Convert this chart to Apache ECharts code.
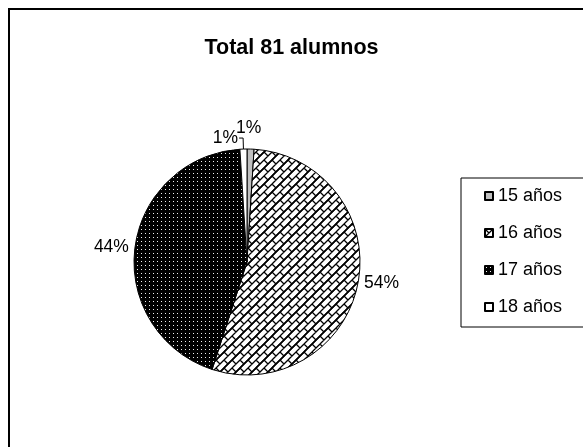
<!DOCTYPE html>
<html>
<head>
<meta charset="utf-8">
<script src="https://cdn.jsdelivr.net/npm/echarts@6/dist/echarts.min.js"></script>
<style>
  html, body { margin: 0; padding: 0; background: #fff; }
  #chart { width: 583px; height: 447px; }
</style>
</head>
<body>
<div id="chart"></div>
<script>
// datos del gráfico
const titleText = 'Total 81 alumnos';
const categories = ['15 años', '16 años', '17 años', '18 años'];
const percentages = [1, 54, 44, 1];

// tramas tipo Excel hechas con canvas
function makeTile(size, draw) {
  const c = document.createElement('canvas');
  c.width = size;
  c.height = size;
  const ctx = c.getContext('2d');
  draw(ctx, size);
  return c;
}

// ladrillo diagonal (16 años)
const brick = makeTile(16, function (ctx, T) {
  ctx.fillStyle = '#fff';
  ctx.fillRect(0, 0, T, T);
  ctx.strokeStyle = '#000';
  ctx.lineWidth = 1.3;
  const h = T / 2, q = T / 4;
  const segs = [
    // líneas "/"
    [0, h, h, 0], [0, T, T, 0], [h, T, T, h], [-h, h, h, -h], [h, T + h, T + h, h],
    // tramos cortos "\"
    [0, 0, q, q], [h, h, h + q, h + q], [h, 0, h + q, q], [0, h, q, h + q]
  ];
  for (const dx of [-T, 0, T]) {
    for (const dy of [-T, 0, T]) {
      ctx.beginPath();
      segs.forEach(function (s) {
        ctx.moveTo(s[0] + dx, s[1] + dy);
        ctx.lineTo(s[2] + dx, s[3] + dy);
      });
      ctx.stroke();
    }
  }
});

// puntos blancos sobre negro (17 años)
const dots = makeTile(4, function (ctx, T) {
  ctx.fillStyle = '#000';
  ctx.fillRect(0, 0, T, T);
  ctx.fillStyle = '#f0f0f0';
  ctx.fillRect(1, 1, 1, 1);
});

const fills = [
  '#c0c0c0',
  { image: brick, repeat: 'repeat' },
  { image: dots, repeat: 'repeat' },
  '#ffffff'
];

const chart = echarts.init(document.getElementById('chart'));

const seriesData = categories.map(function (name, i) {
  const item = {
    name: name,
    value: percentages[i],
    itemStyle: { color: fills[i] }
  };
  if (i === 3) {
    item.labelLine = { show: true, length: 11, length2: 4 };
    item.label = { distanceToLabelLine: 1 };
  }
  return item;
});

chart.setOption({
  animation: false,
  backgroundColor: '#fff',
  textStyle: { fontFamily: 'Liberation Sans, Arial, sans-serif' },
  title: {
    text: titleText,
    left: 'center',
    top: 32,
    textStyle: { fontSize: 21.5, fontWeight: 'bold', color: '#000', fontFamily: 'Liberation Sans' }
  },
  legend: {
    orient: 'vertical',
    left: 461,
    top: 178,
    padding: [9, 60, 11, 23],
    borderColor: '#000',
    borderWidth: 1,
    itemWidth: 8,
    itemHeight: 8,
    itemGap: 19,
    icon: 'rect',
    data: categories,
    textStyle: { fontSize: 18, lineHeight: 18, color: '#000', fontFamily: 'Liberation Sans' }
  },
  graphic: [{
    type: 'rect',
    shape: { x: 9, y: 9, width: 700, height: 600 },
    style: { fill: null, stroke: '#000', lineWidth: 2 },
    silent: true
  }],
  series: [{
    type: 'pie',
    center: [247, 262],
    radius: 113,
    startAngle: 90,
    clockwise: true,
    avoidLabelOverlap: false,
    percentPrecision: 0,
    itemStyle: { borderColor: '#000', borderWidth: 1 },
    label: {
      show: true,
      position: 'outside',
      formatter: '{d}%',
      fontSize: 17.5,
      color: '#000',
      fontFamily: 'Liberation Sans',
      distanceToLabelLine: 4
    },
    labelLine: { show: false, length: 2, length2: 0, lineStyle: { color: '#000', width: 1 } },
    labelLayout: function (params) {
      if (params.dataIndex === 0) {
        return { align: 'center', dx: -6, dy: -19 };
      }
    },
    emphasis: { disabled: true },
    data: seriesData
  }]
});
</script>
</body>
</html>
